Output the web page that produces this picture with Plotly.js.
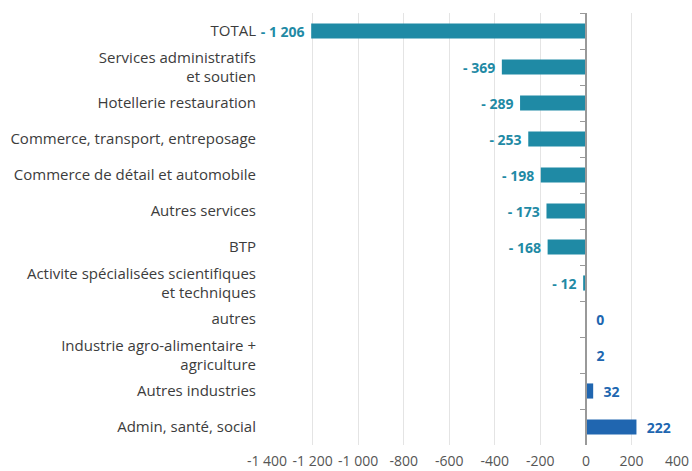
<!DOCTYPE html>
<html><head><meta charset="utf-8">
<script src="https://cdn.plot.ly/plotly-3.0.1.min.js"></script>
<style>body{margin:0;background:#fff}#c{width:692px;height:471px}</style>
</head><body><div id="c"></div>
<script>
const categories = ["TOTAL","Services administratifs<br>et soutien","Hotellerie restauration","Commerce, transport, entreposage","Commerce de détail et automobile","Autres services","BTP","Activite spécialisées scientifiques<br>et techniques","autres","Industrie agro-alimentaire +<br>agriculture","Autres industries","Admin, santé, social"];
const values = [-1206,-369,-289,-253,-198,-173,-168,-12,0,2,32,222];
const xTicks = [-1400,-1200,-1000,-800,-600,-400,-200,0,200,400];

const NEG = "#1f8aa5", POS = "#2066b0";
function grp(v){ return Math.abs(v).toString().replace(/\B(?=(\d{3})+(?!\d))/g, " "); }
function fmt(v){
  return v < 0 ? "- " + grp(v) + "\u00a0" : "\u00a0\u00a0" + grp(v);
}
function fmtTick(v){ return (v < 0 ? "-" : "") + grp(v); }
const colors = values.map(v => v < 0 ? NEG : POS);
const trace = {
  type: "bar", orientation: "h",
  x: values, y: categories,
  marker: {color: colors},
  width: 0.42,
  text: values.map(fmt), textposition: "outside", cliponaxis: false,
  constraintext: "none",
  textfont: {family: "Open Sans", size: 14, color: colors, weight: 700},
  hoverinfo: "none"
};
const layout = {
  width: 692, height: 471,
  margin: {l: 267, r: 15, t: 13, b: 26},
  paper_bgcolor: "#fff", plot_bgcolor: "#fff",
  showlegend: false,
  font: {family: "Open Sans", color: "#444"},
  xaxis: {
    range: [-1400, 400], tickvals: xTicks, ticktext: xTicks.map(fmtTick),
    showgrid: true, gridcolor: "#e4e4e4", gridwidth: 1,
    zeroline: false, showline: false,
    ticks: "outside", ticklen: 3, tickcolor: "rgba(0,0,0,0)",
    tickfont: {size: 14, color: "#555"}
  },
  yaxis: {
    autorange: "reversed", type: "category",
    showgrid: false, zeroline: false, showline: false,
    ticks: "outside", ticklen: 7, tickcolor: "rgba(0,0,0,0)",
    tickfont: {size: 15, color: "#3c3c3c"}
  },
  yaxis2: {
    overlaying: "y", matches: "y", anchor: "free", position: 1400/1800,
    type: "category", autorange: "reversed",
    showline: true, linecolor: "#999", linewidth: 2,
    ticks: "outside", tickson: "boundaries", ticklen: 5, tickcolor: "#999", tickwidth: 1,
    showticklabels: false, showgrid: false, zeroline: false
  }
};
const ghost = {type: "bar", orientation: "h", x: values.map(()=>null), y: categories, yaxis: "y2", hoverinfo: "none", showlegend: false};
Plotly.newPlot("c", [trace, ghost], layout, {displayModeBar: false, staticPlot: true});
</script></body></html>
